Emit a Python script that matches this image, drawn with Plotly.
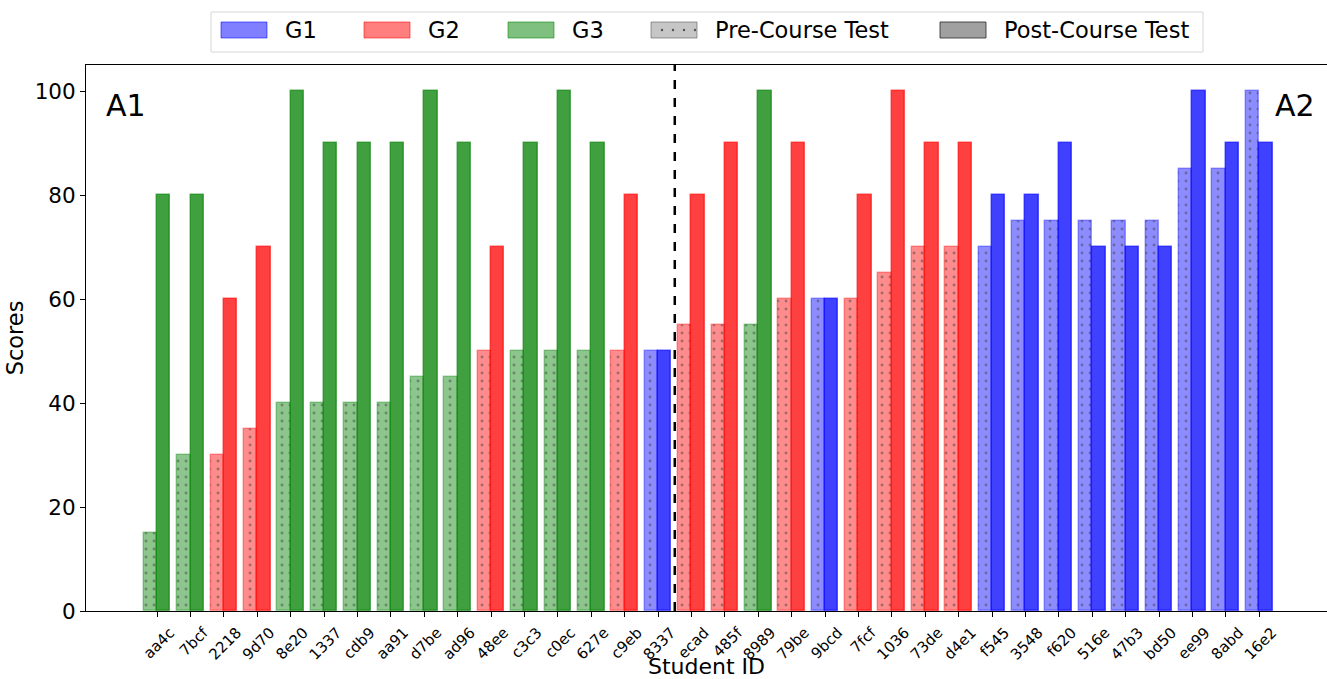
import plotly.graph_objects as go

# Student IDs in plotting order
students = ["aa4c", "7bcf", "2218", "9d70", "8e20", "1337", "cdb9", "aa91", "d7be", "ad96",
            "48ee", "c3c3", "c0ec", "627e", "c9eb", "8337", "ecad", "485f", "8989", "79be",
            "9bcd", "7fcf", "1036", "73de", "d4e1", "f545", "3548", "f620", "516e", "47b3",
            "bd50", "ee99", "8abd", "16e2"]
groups = ["G3", "G3", "G2", "G2", "G3", "G3", "G3", "G3", "G3", "G3",
          "G2", "G3", "G3", "G3", "G2", "G1", "G2", "G2", "G3", "G2",
          "G1", "G2", "G2", "G2", "G2", "G1", "G1", "G1", "G1", "G1",
          "G1", "G1", "G1", "G1"]
pre_scores = [15, 30, 30, 35, 40, 40, 40, 40, 45, 45,
              50, 50, 50, 50, 50, 50, 55, 55, 55, 60,
              60, 60, 65, 70, 70, 70, 75, 75, 75, 75,
              75, 85, 85, 100]
post_scores = [80, 80, 60, 70, 100, 90, 90, 90, 100, 90,
               70, 90, 100, 90, 80, 50, 80, 90, 100, 90,
               60, 80, 100, 90, 90, 80, 80, 90, 70, 70,
               70, 100, 90, 90]
group_names = ["G1", "G2", "G3"]
test_names = ["Pre-Course Test", "Post-Course Test"]

base_rgb = {"G1": (0, 0, 255), "G2": (255, 0, 0), "G3": (0, 128, 0)}


def rgba(g, a):
    r, gg, b = base_rgb[g]
    return f"rgba({r},{gg},{b},{a})"


FONT = "DejaVu Sans"
W, H = 1327, 679
ML, MR, MT, MB = 86, 0, 65, 68
PW, PH = W - ML - MR, H - MT - MB


def px(xp):
    """Pixel column -> paper x."""
    return (xp - ML) / PW


def py(yp):
    """Pixel row -> paper y."""
    return (H - MB - yp) / PH


fig = go.Figure()

# Pre-course bars (lighter, dotted), left half of each slot
fig.add_trace(go.Bar(
    x=students, y=pre_scores, offset=-0.4, width=0.4,
    marker=dict(
        color=[rgba(g, 0.45) for g in groups],
        line=dict(color=[rgba(g, 0.35) for g in groups], width=1.5),
        pattern=dict(shape=".", fgcolor=[rgba(g, 0.85) for g in groups],
                     size=8, solidity=0.1, fillmode="overlay"),
    ),
    showlegend=False, hoverinfo="x+y",
))

# Post-course bars (solid), right half of each slot
fig.add_trace(go.Bar(
    x=students, y=post_scores, offset=0.0, width=0.4,
    marker=dict(
        color=[rgba(g, 0.75) for g in groups],
        line=dict(color=[rgba(g, 0.6) for g in groups], width=1.5),
    ),
    showlegend=False, hoverinfo="x+y",
))

# Divider between the two sections
fig.add_shape(type="line", x0=15.5, x1=15.5, xref="x", y0=0, y1=1, yref="y domain",
              line=dict(color="black", width=2.5, dash="dash"))

fig.add_annotation(text="A1", x=px(126), y=py(106), xref="paper", yref="paper",
                   xanchor="center", yanchor="middle",
                   showarrow=False, font=dict(size=30, color="black", family=FONT))
fig.add_annotation(text="A2", x=px(1295), y=py(106), xref="paper", yref="paper",
                   xanchor="center", yanchor="middle",
                   showarrow=False, font=dict(size=30, color="black", family=FONT))

# x-axis title placed below the rotated tick labels
fig.add_annotation(text="Student ID", x=0.5, y=py(666), xref="paper", yref="paper",
                   xanchor="center", yanchor="middle", showarrow=False, borderpad=0,
                   font=dict(size=22, color="black", family=FONT))

# Legend box drawn above the axes
shapes = [dict(type="rect", xref="paper", yref="paper",
               x0=px(211), x1=px(1203), y0=py(52), y1=py(12),
               line=dict(color="#d6d6d6", width=1), fillcolor="white", layer="above")]
legend_items = [
    ("G1", 221, rgba("G1", 0.5), rgba("G1", 0.55)),
    ("G2", 364, rgba("G2", 0.5), rgba("G2", 0.55)),
    ("G3", 508, rgba("G3", 0.5), rgba("G3", 0.55)),
    (test_names[0], 651, "rgba(128,128,128,0.45)", "rgba(90,90,90,0.6)"),
    (test_names[1], 940, "rgba(128,128,128,0.75)", "rgba(50,50,50,0.85)"),
]
for label, x0, fill, edge in legend_items:
    shapes.append(dict(type="rect", xref="paper", yref="paper",
                       x0=px(x0), x1=px(x0 + 46), y0=py(38), y1=py(22),
                       line=dict(color=edge, width=1), fillcolor=fill, layer="above"))
    fig.add_annotation(text=label, x=px(x0 + 62), y=py(30), xref="paper", yref="paper",
                       xanchor="left", yanchor="middle", showarrow=False,
                       font=dict(size=22.5, color="black", family=FONT))
# dotted hatch on the pre-course swatch
for dx in (662, 673, 684, 695):
    shapes.append(dict(type="circle", xref="paper", yref="paper",
                       x0=px(dx - 1.2), x1=px(dx + 1.2), y0=py(31.2), y1=py(28.8),
                       line=dict(width=0), fillcolor="rgba(70,70,70,0.9)", layer="above"))

fig.update_layout(
    width=W, height=H,
    margin=dict(l=ML, r=MR, t=MT, b=MB),
    plot_bgcolor="white", paper_bgcolor="white",
    barmode="overlay", bargap=0,
    showlegend=False,
    font=dict(family=FONT, color="black"),
    shapes=list(fig.layout.shapes) + shapes,
    xaxis=dict(
        type="category", categoryorder="array", categoryarray=students,
        range=[-2.13, 35.03],
        tickangle=-45, tickfont=dict(size=15, family=FONT),
        ticklabelshift=13, ticklabelstandoff=1,
        ticks="outside", ticklen=5, tickcolor="black",
        showline=True, linecolor="black", linewidth=1, mirror=True,
        showgrid=False, zeroline=False, automargin=False,
    ),
    yaxis=dict(
        range=[0, 105], tickvals=[0, 20, 40, 60, 80, 100],
        tickfont=dict(size=21.5, family=FONT),
        ticks="outside", ticklen=5, tickcolor="black",
        showline=True, linecolor="black", linewidth=1,
        showgrid=False, zeroline=False, automargin=False,
        title=dict(text="Scores", font=dict(size=22.5, family=FONT), standoff=4),
    ),
)

fig.write_html("out.html")
